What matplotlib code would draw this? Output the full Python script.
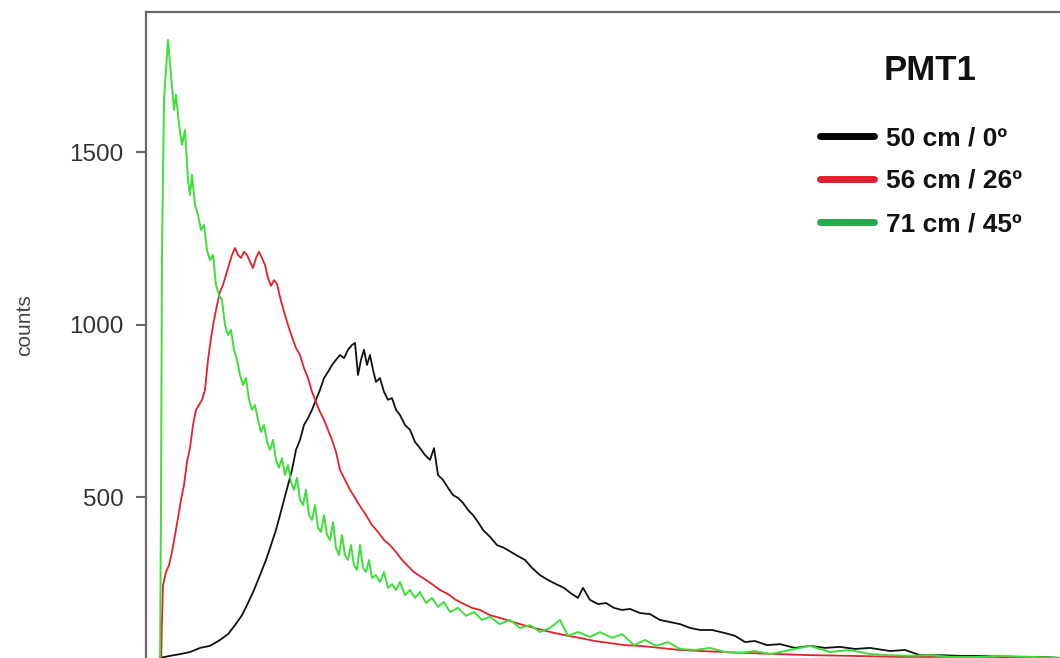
import matplotlib
matplotlib.use("Agg")
import matplotlib.pyplot as plt
from matplotlib.lines import Line2D

plt.rcParams['font.family'] = ['Liberation Sans', 'DejaVu Sans']

# 50 cm / 0º  (canal, cuentas)
ch_black = [14, 24, 34, 44, 54, 64, 74, 82, 89, 96, 102, 108, 114, 120, 125, 130, 134, 138,
            142, 146, 150, 154, 158, 162, 166, 170, 174, 178, 182, 186, 190, 194, 198, 202,
            206, 209, 212, 215, 218, 221, 224, 227, 230, 234, 238, 242, 246, 250, 254, 259,
            264, 269, 274, 279, 284, 288, 292, 297, 302, 307, 312, 317, 322, 327, 332, 337,
            344, 351, 358, 365, 372, 379, 386, 394, 402, 410, 418, 426, 432, 437, 444, 452,
            460, 468, 476, 484, 494, 504, 514, 524, 534, 544, 554, 566, 579, 589, 599, 609,
            621, 634, 649, 664, 679, 694, 709, 724, 744, 759, 774, 794, 814, 839, 864, 894, 914]
counts_black = [35, 41, 46, 52, 64, 70, 87, 104, 130, 159, 194, 232, 275, 319, 362, 406, 449, 493,
                536, 580, 638, 667, 710, 730, 754, 783, 812, 846, 864, 884, 899, 913, 904, 928,
                942, 948, 855, 899, 928, 884, 913, 870, 835, 846, 806, 783, 788, 754, 739, 710,
                696, 661, 643, 623, 609, 643, 565, 551, 528, 507, 499, 484, 464, 449, 429, 406,
                386, 362, 354, 342, 330, 319, 296, 275, 261, 249, 238, 220, 209, 238, 203, 191,
                194, 180, 174, 177, 165, 162, 145, 139, 133, 122, 116, 116, 107, 99, 81, 84,
                72, 75, 64, 70, 64, 67, 61, 64, 55, 58, 43, 43, 41, 41, 38, 38, 35]

# 56 cm / 26º
ch_red = [15, 16, 17, 20, 23, 26, 29, 32, 35, 38, 41, 44, 47, 50, 53, 56, 59, 62, 65, 68, 71,
          74, 77, 80, 83, 86, 89, 92, 95, 98, 101, 104, 107, 110, 113, 116, 119, 122, 125, 128,
          131, 134, 138, 142, 146, 150, 154, 158, 162, 166, 170, 174, 178, 182, 186, 190, 194,
          199, 204, 209, 214, 220, 226, 232, 238, 244, 250, 256, 262, 268, 274, 280, 286, 294,
          302, 310, 318, 326, 334, 344, 354, 364, 374, 384, 396, 409, 422, 434, 449, 464, 479,
          494, 514, 534, 554, 579, 604, 634, 664, 704, 754, 804, 854, 914]
counts_red = [0, 145, 246, 284, 304, 342, 391, 441, 493, 536, 603, 643, 710, 754, 768, 783, 812,
              899, 962, 1014, 1058, 1096, 1116, 1145, 1174, 1203, 1223, 1203, 1194, 1212, 1203,
              1183, 1165, 1194, 1212, 1194, 1174, 1136, 1113, 1130, 1119, 1081, 1038, 1000, 965,
              933, 913, 875, 846, 806, 777, 748, 725, 696, 667, 632, 580, 551, 522, 499, 475,
              449, 420, 400, 377, 362, 342, 319, 301, 284, 272, 261, 249, 232, 220, 203, 191,
              180, 174, 159, 151, 142, 133, 125, 116, 107, 99, 93, 84, 78, 72, 70, 64, 58, 55,
              52, 49, 46, 43, 41, 38, 38, 38, 35]

# 71 cm / 45º
ch_green = [14, 15, 16, 18, 22, 25, 28, 30, 33, 36, 39, 42, 44, 46, 49, 52, 55, 58, 61, 64, 67,
            70, 73, 76, 79, 82, 85, 88, 91, 94, 97, 100, 103, 106, 109, 112, 115, 118, 121, 124,
            127, 130, 133, 136, 139, 142, 145, 148, 151, 154, 157, 160, 163, 166, 169, 172, 175,
            178, 181, 184, 187, 190, 193, 196, 199, 202, 205, 208, 211, 214, 217, 220, 223, 226,
            230, 234, 238, 242, 246, 250, 254, 259, 264, 269, 274, 280, 286, 292, 298, 304, 312,
            320, 328, 336, 344, 354, 364, 374, 384, 394, 404, 414, 422, 432, 444, 454, 466, 476,
            488, 499, 510, 522, 534, 549, 564, 579, 594, 609, 624, 644, 664, 684, 704, 724, 744,
            764, 784, 804, 829, 854, 884, 914]
counts_green = [0, 493, 1217, 1652, 1826, 1725, 1623, 1667, 1580, 1522, 1565, 1420, 1377, 1435,
                1348, 1319, 1275, 1290, 1217, 1188, 1203, 1116, 1087, 1072, 1000, 971, 986, 928,
                899, 855, 826, 846, 783, 754, 768, 725, 690, 710, 661, 638, 667, 609, 586, 614,
                565, 594, 545, 522, 557, 493, 478, 522, 449, 435, 478, 412, 400, 449, 391, 377,
                429, 354, 333, 391, 333, 319, 362, 304, 290, 362, 296, 284, 319, 267, 275, 255,
                284, 238, 249, 232, 255, 217, 232, 209, 226, 194, 209, 183, 197, 168, 180, 157,
                168, 145, 154, 133, 145, 122, 130, 110, 122, 145, 99, 110, 96, 110, 93, 104, 72,
                87, 70, 81, 61, 58, 64, 52, 49, 55, 46, 58, 70, 52, 58, 46, 43, 41, 43, 38, 38,
                41, 38, 35]

labels = ["50 cm / 0º", "56 cm / 26º", "71 cm / 45º"]
line_colors = ['#111111', '#e2222a', '#3ede3a']
legend_colors = ['#050505', '#e3202c', '#2aa84c']

fig = plt.figure(figsize=(10.6, 6.58), dpi=100)
ax = fig.add_axes([146 / 1060, -12 / 658, 935 / 1060, 658 / 658])

ax.plot(ch_black, counts_black, color=line_colors[0], lw=1.3)
ax.plot(ch_red, counts_red, color=line_colors[1], lw=1.3)
ax.plot(ch_green, counts_green, color=line_colors[2], lw=1.4)

ax.set_xlim(0, 935)
ax.set_ylim(0, 1907)
ax.set_yticks([500, 1000, 1500])
ax.set_xticks([])
ax.tick_params(axis='y', direction='out', length=7, width=1.5, colors='#666666',
               labelcolor='#333333', labelsize=17.5, pad=9)
for s in ['right', 'bottom']:
    ax.spines[s].set_visible(False)
for s in ['left', 'top']:
    ax.spines[s].set_color('#6a6a6a')
    ax.spines[s].set_linewidth(1.6)

fig.text(25 / 1060, 1 - 325 / 658, "counts", rotation=90, ha='center', va='center',
         fontsize=15, color='#444444')

# Leyenda
fig.text(930 / 1060, 1 - 70 / 658, "PMT1", ha='center', va='center', fontsize=25,
         fontweight='bold', color='#111111')
handles = [Line2D([], [], color=c, lw=5, solid_capstyle='round') for c in legend_colors]
leg = fig.legend(handles, labels, loc='upper left', bbox_to_anchor=(820 / 1060, 1 - 126 / 658),
                 frameon=False, prop={'size': 19, 'weight': 'bold'}, handlelength=2.05,
                 handletextpad=0.45, labelspacing=0.72, borderpad=0, borderaxespad=0)
for t in leg.get_texts():
    t.set_color('#111111')

plt.savefig("out.png", dpi=100)
